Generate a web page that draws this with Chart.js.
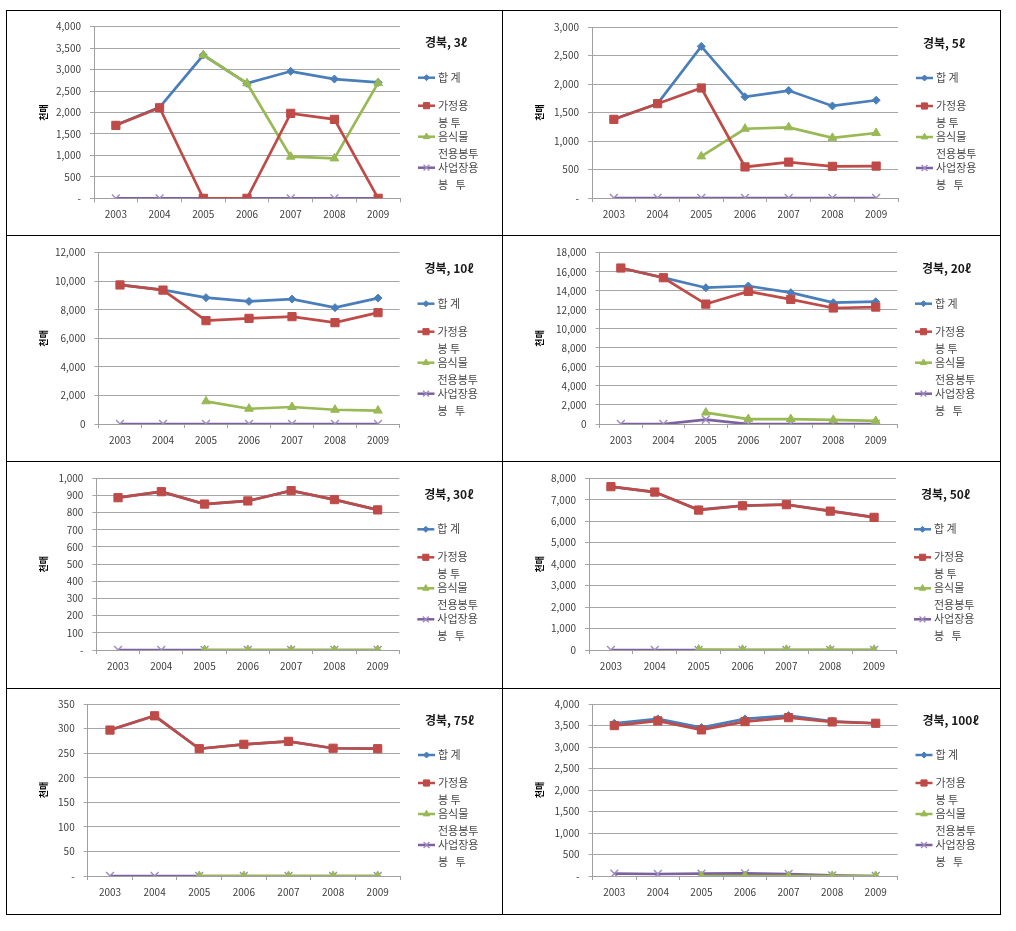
<!DOCTYPE html>
<html><head><meta charset="utf-8">
<script src="https://cdn.jsdelivr.net/npm/chart.js@4/dist/chart.umd.min.js"></script>
<style>
html,body{margin:0;padding:0;background:#fff;}
body{width:1016px;height:931px;position:relative;overflow:hidden;}
.frame{position:absolute;left:6px;top:10px;width:993px;height:903px;border:1px solid #000;}
.vl{position:absolute;left:502px;top:10px;width:1px;height:904px;background:#000;}
.hl{position:absolute;left:6px;width:995px;height:1px;background:#000;}
canvas{position:absolute;}
</style></head><body>
<div class="frame"></div>
<div class="vl"></div>
<div class="hl" style="top:235px"></div>
<div class="hl" style="top:461px"></div>
<div class="hl" style="top:688px"></div>
<script>
// ---------- data ----------
const years = ['2003','2004','2005','2006','2007','2008','2009'];
const seriesNames = [['합 계'], ['가정용','봉 투'], ['음식물','전용봉투'], ['사업장용','봉   투']];
const chartTitles = ['경북, 3ℓ','경북, 5ℓ','경북, 10ℓ','경북, 20ℓ','경북, 30ℓ','경북, 50ℓ','경북, 75ℓ','경북, 100ℓ'];
const yAxisTitle = '천매';
const yMax  = [4000, 3000, 12000, 18000, 1000, 8000, 350, 4000];
const yStep = [500, 500, 2000, 2000, 100, 1000, 50, 500];
const zeroLabel = ['-', '-', '0', '0', '-', '0', '-', '-'];

const total3     = [1710, 2120, 3340, 2680, 2960, 2780, 2700];
const household3 = [1700, 2110, 0, 0, 1980, 1840, 0];
const food3      = [null, null, 3340, 2680, 970, 930, 2690];
const business3  = [0, 0, 0, 0, 0, 0, 0];

const total5     = [1380, 1655, 2660, 1775, 1885, 1615, 1715];
const household5 = [1380, 1655, 1930, 545, 630, 555, 560];
const food5      = [null, null, 730, 1215, 1240, 1055, 1140];
const business5  = [0, 0, 0, 0, 0, 0, 0];

const total10     = [9740, 9390, 8850, 8590, 8750, 8150, 8820];
const household10 = [9740, 9380, 7240, 7400, 7520, 7100, 7800];
const food10      = [null, null, 1590, 1070, 1190, 1000, 940];
const business10  = [0, 0, 0, 0, 0, 0, 0];

const total20     = [16390, 15380, 14320, 14500, 13800, 12750, 12850];
const household20 = [16390, 15370, 12600, 13940, 13100, 12190, 12290];
const food20      = [null, null, 1200, 520, 520, 430, 320];
const business20  = [0, 0, 450, 0, 0, 0, 0];

const total30     = [887, 922, 850, 868, 928, 876, 816];
const household30 = [887, 922, 850, 868, 928, 876, 816];
const food30      = [null, null, 0, 0, 0, 0, 0];
const business30  = [0, 0, 0, 0, 0, 0, 0];

const total50     = [7610, 7360, 6540, 6730, 6780, 6480, 6190];
const household50 = [7610, 7360, 6520, 6720, 6770, 6470, 6180];
const food50      = [null, null, 20, 10, 10, 10, 10];
const business50  = [0, 0, 0, 0, 0, 0, 0];

const total75     = [297, 326, 259, 268, 274, 260, 259];
const household75 = [297, 326, 259, 268, 274, 260, 259];
const food75      = [null, null, 0, 0, 0, 0, 0];
const business75  = [0, 0, 0, 0, 0, 0, 0];

const total100     = [3552, 3653, 3452, 3653, 3730, 3599, 3552];
const household100 = [3498, 3606, 3398, 3591, 3683, 3583, 3552];
const food100      = [null, null, 0, 0, 0, 0, 0];
const business100  = [54, 47, 54, 62, 47, 16, 0];

const chartSeries = [
  [total3, household3, food3, business3],
  [total5, household5, food5, business5],
  [total10, household10, food10, business10],
  [total20, household20, food20, business20],
  [total30, household30, food30, business30],
  [total50, household50, food50, business50],
  [total75, household75, food75, business75],
  [total100, household100, food100, business100]
];

// ---------- layout & style ----------
const FONT = "'Noto Sans CJK KR','Liberation Sans',sans-serif";
Chart.defaults.font.family = FONT;

const cols = [{x:7, w:495}, {x:503, w:497}];
const rows = [{y:11, h:224}, {y:236, h:225}, {y:462, h:226}, {y:689, h:225}];
// plot rectangles in page coordinates: left, right, top, bottom
const plots = [
  {l:94,  r:400, t:26.7,  b:198.3},
  {l:592, r:898, t:27,    b:198},
  {l:98.5,r:399.5,t:252.7,b:424},
  {l:599.6,r:897,t:252.7, b:424},
  {l:96.4,r:399.3,t:478.3,b:650},
  {l:589, r:896, t:478.3, b:650},
  {l:87.7,r:400, t:703.3, b:876},
  {l:592.5,r:897.5,t:703.3,b:876}
];
const styles = [
  {color:'#4a7ebb', fill:'#4a7ebb', pointStyle:'rectRot',  radius:4,   bw:1,   order:2},
  {color:'#be4b48', fill:'#be4b48', pointStyle:'rect',     radius:5.8, bw:1,   order:0},
  {color:'#98b954', fill:'#98b954', pointStyle:'triangle', radius:5,   bw:1,   order:1},
  {color:'#7d60a0', fill:'#9e8bc2', pointStyle:'crossRot', radius:5.5, bw:1.4, order:3}
];

const cellLegend = {
  id: 'cellLegend',
  afterDraw(chart, args, o) {
    const ctx = chart.ctx, a = chart.chartArea;
    ctx.save();
    ctx.textBaseline = 'middle';
    ctx.textAlign = 'left';
    ctx.fillStyle = '#1a1a1a';
    ctx.font = "bold 12px " + FONT;
    ctx.fillText(o.title, a.right + 25, a.top + 16);
    ctx.font = "11px " + FONT;
    const offs = [51, 79, 110, 141];
    styles.forEach((s, i) => {
      const x = a.right + 18, y = a.top + offs[i];
      ctx.strokeStyle = s.color; ctx.lineWidth = 2.5;
      ctx.beginPath(); ctx.moveTo(x, y); ctx.lineTo(x + 17, y); ctx.stroke();
      ctx.fillStyle = s.fill;
      ctx.strokeStyle = i === 3 ? s.fill : s.color;
      ctx.lineWidth = s.bw;
      Chart.helpers.drawPoint(ctx, {pointStyle: s.pointStyle, radius: s.radius * 0.75, rotation: 0, borderWidth: s.bw}, x + 8.5, y);
      ctx.fillStyle = '#4a4a4a';
      seriesNames[i].forEach((t, j) => ctx.fillText(t, x + 20, y + j * 17));
    });
    ctx.restore();
  }
};

chartSeries.forEach((series, k) => {
  const col = cols[k % 2], row = rows[Math.floor(k / 2)], p = plots[k];
  const cv = document.createElement('canvas');
  cv.width = col.w; cv.height = row.h;
  cv.style.left = col.x + 'px'; cv.style.top = row.y + 'px';
  cv.style.width = col.w + 'px'; cv.style.height = row.h + 'px';
  document.body.appendChild(cv);

  const datasets = series.map((vals, i) => {
    const s = styles[i];
    return {
      label: seriesNames[i].join(' '),
      data: vals,
      borderColor: s.color,
      backgroundColor: s.fill,
      borderWidth: 2.7,
      pointStyle: s.pointStyle,
      pointRadius: s.radius,
      pointBackgroundColor: s.fill,
      pointBorderColor: i === 3 ? s.fill : s.color,
      pointBorderWidth: s.bw,
      tension: 0,
      order: s.order
    };
  });

  new Chart(cv, {
    type: 'line',
    data: {labels: years, datasets},
    options: {
      responsive: false,
      animation: false,
      events: [],
      layout: {padding: {left: 0, bottom: 0, top: p.t - row.y, right: col.x + col.w - p.r}},
      plugins: {
        legend: {display: false},
        tooltip: {enabled: false},
        cellLegend: {title: chartTitles[k]}
      },
      scales: {
        x: {
          type: 'category',
          offset: true,
          grid: {offset: true, drawOnChartArea: false, drawTicks: true, tickLength: 4, tickColor: '#a0a0a0'},
          border: {color: '#a0a0a0', width: 1},
          ticks: {padding: 6, autoSkip: false, maxRotation: 0, minRotation: 0, color: '#404040', font: {size: 10}},
          afterFit: s => { s.height = row.y + row.h - p.b; }
        },
        y: {
          min: 0, max: yMax[k],
          ticks: {
            stepSize: yStep[k], padding: 9, color: '#404040', font: {size: 10},
            callback: v => v === 0 ? zeroLabel[k] : v.toLocaleString('en-US')
          },
          grid: {color: '#a6a6a6', lineWidth: 1, tickLength: 4, tickColor: '#a6a6a6'},
          border: {color: '#a0a0a0', width: 1},
          title: {display: true, text: yAxisTitle, color: '#000', font: {size: 9, weight: 'bold'}, padding: {top: 31, bottom: 0}},
          afterFit: s => { s.width = p.l - col.x; }
        }
      }
    },
    plugins: [cellLegend]
  });
});
</script>
</body></html>
